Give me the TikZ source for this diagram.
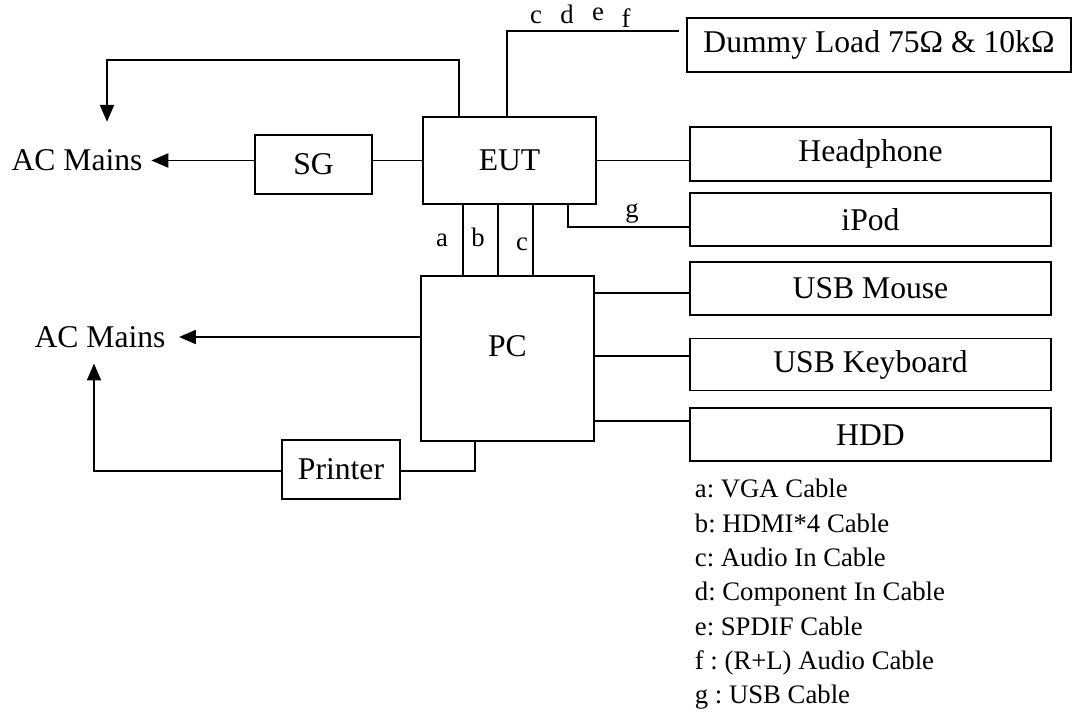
\documentclass[tikz,border=0pt]{standalone}
\usepackage{fontspec}
\setmainfont{Liberation Serif}
\usepackage{tikz}
\usetikzlibrary{arrows.meta,positioning}
\newcommand{\pxu}{0.025cm}
\frenchspacing

\begin{document}
\begin{tikzpicture}[x=0.025cm, y=-0.025cm, >={Triangle[length=12pt,width=10pt]}, line width=1.3pt]
	\tikzstyle{box}=[draw, inner sep=0pt, font=\fontsize{22.5}{27}\selectfont]
	\tikzstyle{mains}=[inner sep=0pt, font=\fontsize{22.5}{27}\selectfont]
	\tikzstyle{tag}=[inner sep=0pt, anchor=base, font=\fontsize{19}{24}\selectfont]
	\useasboundingbox (0,0) rectangle (1073,716);
	% % Nodes
	% equipment under test
	\node[box, minimum width=173*\pxu, minimum height=87*\pxu] (eut) at (509.5,160.5) {EUT};
	\node[box, minimum width=117*\pxu, minimum height=59*\pxu] (sg) at (313.5,164.5) {SG};
	\node[mains] (mainsA) at (77,160) {AC Mains};
	% load
	\node[box, minimum width=384*\pxu, minimum height=54*\pxu] (load) at (879,45)
	{Dummy Load 75Ω \& 10kΩ};
	% right column
	\node[box, minimum width=361*\pxu, minimum height=54*\pxu] (headphone) at (870.5,154) {Headphone};
	\node[box, minimum width=361*\pxu, minimum height=53*\pxu, below=0.25cm of headphone] (ipod) {iPod};
	\node[box, minimum width=361*\pxu, minimum height=53*\pxu, below=0.35cm of ipod] (mouse) {USB Mouse};
	\node[box, minimum width=361*\pxu, minimum height=52*\pxu, below=0.55cm of mouse] (keyboard) {USB Keyboard};
	\node[box, minimum width=361*\pxu, minimum height=53*\pxu, below=0.4cm of keyboard] (hdd) {HDD};
	% pc and printer
	\node[box, minimum width=173*\pxu, minimum height=165*\pxu, text depth=18pt] (pc) at (507.5,358.5) {PC};
	\node[mains] (mainsB) at (100,337) {AC Mains};
	\node[box, minimum width=118*\pxu, minimum height=59*\pxu] (printer) at (341,469.5) {Printer};
	% cable tags
	\node[tag] (tagtopc) at (536,24) {c};
	\node[tag] (tagd) at (567,24) {d};
	\node[tag] (tage) at (598,21) {e};
	\node[tag] (tagf) at (626,28) {f};
	\node[tag] (taga) at (442,246) {a};
	\node[tag] (tagb) at (478,246) {b};
	\node[tag] (tagc) at (522,250) {c};
	\node[tag] (tagg) at (632,217) {g};
	% legend
	\node[inner sep=0pt, anchor=north west, align=left, font=\fontsize{19}{24.4}\selectfont] (legend) at (694,478.5)
	{
		a: VGA Cable\\
		b: HDMI*4 Cable\\
		c: Audio In Cable\\
		d: Component In Cable\\
		e: SPDIF Cable\\
		f : (R+L) Audio Cable\\
		g : USB Cable
	};
	% % Bends
	\coordinate (eutbend) at (459,60);
	\coordinate (mainsbend) at (107,60);
	\coordinate (loadbend) at (507,31);
	\coordinate (ipodbend) at (568,227);
	\coordinate (cablea) at (463,240);
	\coordinate (cableb) at (498,240);
	\coordinate (cablec) at (533,240);
	\coordinate (mouseport) at (594,293);
	\coordinate (keyport) at (594,356);
	\coordinate (hddport) at (594,421);
	\coordinate (printerbend) at (94,471);
	\coordinate (pcbend) at (475,471);
	% % Connectors
	\draw [->, shorten >=19pt] (eut.north -| eutbend) -- (eutbend) -- (mainsbend) -- (mainsbend |- mainsA.north);
	\draw [->, shorten >=5.7pt] (sg.west |- eut) -- (mainsA.east |- eut);
	\draw (sg.east |- eut) -- (eut.west);
	\draw [shorten >=5pt] (eut.north -| loadbend) -- (loadbend) -- (loadbend -| load.west);
	\draw (eut.east) -- (eut.east -| headphone.west);
	\draw (eut.south -| ipodbend) -- (ipodbend) -- (ipodbend -| ipod.west);
	\draw (eut.south -| cablea) -- (pc.north -| cablea);
	\draw (eut.south -| cableb) -- (pc.north -| cableb);
	\draw (eut.south -| cablec) -- (pc.north -| cablec);
	\draw (pc.east |- mouseport) -- (mouse.west |- mouseport);
	\draw (pc.east |- keyport) -- (keyboard.west |- keyport);
	\draw (pc.east |- hddport) -- (hdd.west |- hddport);
	\draw [->, shorten >=9pt] (pc.west |- mainsB) -- (mainsB.east);
	\draw [->, shorten >=10.7pt] (printer.west |- printerbend) -- (printerbend) -- (printerbend |- mainsB.south);
	\draw (printer.east |- pcbend) -- (pcbend) -- (pcbend |- pc.south);
\end{tikzpicture}
\end{document}
